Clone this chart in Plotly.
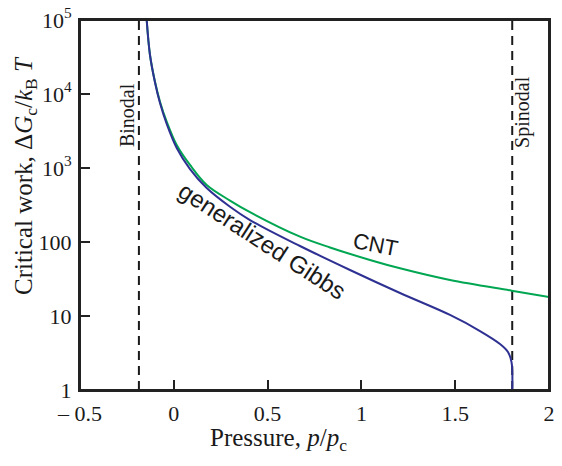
import plotly.graph_objects as go

# Data
cnt_x = [-0.1445, -0.1269, -0.1002, -0.0736, -0.0378, 0.0155, 0.0864, 0.1754, 0.2996,
         0.4062, 0.6727, 0.8326, 1.0458, 1.2058, 1.4723, 1.8012, 2.0]
cnt_log = [5.0, 4.527, 4.166, 3.896, 3.626, 3.311, 3.041, 2.770, 2.56,
           2.403, 2.072, 1.926, 1.757, 1.644, 1.486, 1.342, 1.257]

gibbs_x = [-0.1445, -0.1269, -0.1002, -0.0736, -0.0378, 0.0155, 0.0864, 0.1754, 0.2996,
           0.4062, 0.6727, 0.9392, 1.2058, 1.4723, 1.6322, 1.7388, 1.7814, 1.8001,
           1.8044, 1.8044]
gibbs_log = [5.0, 4.527, 4.155, 3.878, 3.595, 3.270, 2.986, 2.730, 2.477,
             2.297, 1.946, 1.622, 1.311, 1.014, 0.797, 0.622, 0.514, 0.378,
             0.243, 0.0]

binodal_x = -0.186
spinodal_x = 1.804

x_ticks = [-0.5, 0, 0.5, 1, 1.5, 2]
x_ticktext = ["\u2013 0.5", "0", "0.5", "1", "1.5", "2"]
y_ticks = [1, 10, 100, 1000, 10000, 100000]
y_ticktext = ["1", "10", "100", "10<sup>3</sup>", "10<sup>4</sup>", "10<sup>5</sup>"]

x_title = "Pressure, <i>p</i>/<i>p</i><sub>c</sub>"
y_title = "Critical work, \u0394<i>G</i><sub>c</sub>/<i>k</i><sub>B</sub> <i>T</i>"

cnt_y = [10 ** v for v in cnt_log]
gibbs_y = [10 ** v for v in gibbs_log]

serif = "Liberation Serif"
sans = "Liberation Sans"
ink = "#1a1a1a"

fig = go.Figure()
for xv in (binodal_x, spinodal_x):
    fig.add_trace(go.Scatter(x=[xv, xv], y=[1, 1e5], mode="lines",
                             line=dict(color=ink, width=2, dash="9px,6px"),
                             showlegend=False, hoverinfo="skip"))
fig.add_trace(go.Scatter(x=cnt_x, y=cnt_y, mode="lines", line_shape="spline",
                         line=dict(color="#00A651", width=2), showlegend=False))
fig.add_trace(go.Scatter(x=gibbs_x, y=gibbs_y, mode="lines", line_shape="spline",
                         line=dict(color="#2E3192", width=2), showlegend=False))

fig.add_annotation(x=-0.249, y=3.716, xref="x", yref="y", text="Binodal", textangle=-90,
                   showarrow=False, font=dict(family=serif, size=20, color=ink))
fig.add_annotation(x=1.861, y=3.757, xref="x", yref="y", text="Spinodal", textangle=-90,
                   showarrow=False, font=dict(family=serif, size=20, color=ink))
fig.add_annotation(x=(375 - 80) / 187.6 - 0.5, y=(390 - 244) / 74, xref="x", yref="y",
                   text="CNT", textangle=11, showarrow=False,
                   font=dict(family=sans, size=22, color=ink))
fig.add_annotation(x=(262 - 80) / 187.6 - 0.5, y=(390 - 240) / 74, xref="x", yref="y",
                   text="generalized Gibbs", textangle=33, showarrow=False,
                   font=dict(family=sans, size=24, color=ink))

# axis titles (placed off-centre as in the reference)
fig.add_annotation(x=(278 - 80) / 469, y=(390 - 439) / 370, xref="paper", yref="paper",
                   xanchor="center", yanchor="middle",
                   text=x_title, showarrow=False,
                   font=dict(family=serif, size=25, color=ink))
fig.add_annotation(x=(25 - 80) / 469, y=(390 - 176) / 370, xref="paper", yref="paper",
                   xanchor="center", yanchor="middle",
                   text=y_title, textangle=-90, showarrow=False,
                   font=dict(family=serif, size=25, color=ink))

# frame around the plot area
fig.add_shape(type="rect", xref="paper", yref="paper", x0=0, x1=1, y0=0, y1=1,
              line=dict(color="#222", width=2), layer="above")

fig.update_xaxes(range=[-0.5, 2], tickvals=x_ticks, ticktext=x_ticktext,
                 ticks="inside", ticklen=10, tickwidth=2, tickcolor="#222",
                 showline=True, linewidth=2, linecolor="#222", mirror=True,
                 showgrid=False, zeroline=False, ticklabelstandoff=3,
                 tickfont=dict(family=serif, size=22, color=ink))
fig.update_yaxes(type="log", range=[0, 5], tickvals=y_ticks, ticktext=y_ticktext,
                 ticks="inside", ticklen=10, tickwidth=2, tickcolor="#222",
                 showline=True, linewidth=2, linecolor="#222", mirror=True,
                 showgrid=False, zeroline=False, ticklabelstandoff=2,
                 tickfont=dict(family=serif, size=22, color=ink))

fig.update_layout(width=562, height=466, margin=dict(l=80, r=13, t=20, b=76, autoexpand=False),
                  paper_bgcolor="white", plot_bgcolor="white")

fig.write_html("out.html", config={"displayModeBar": False},
               post_script="document.body.style.margin='0';document.body.style.overflow='hidden';")
